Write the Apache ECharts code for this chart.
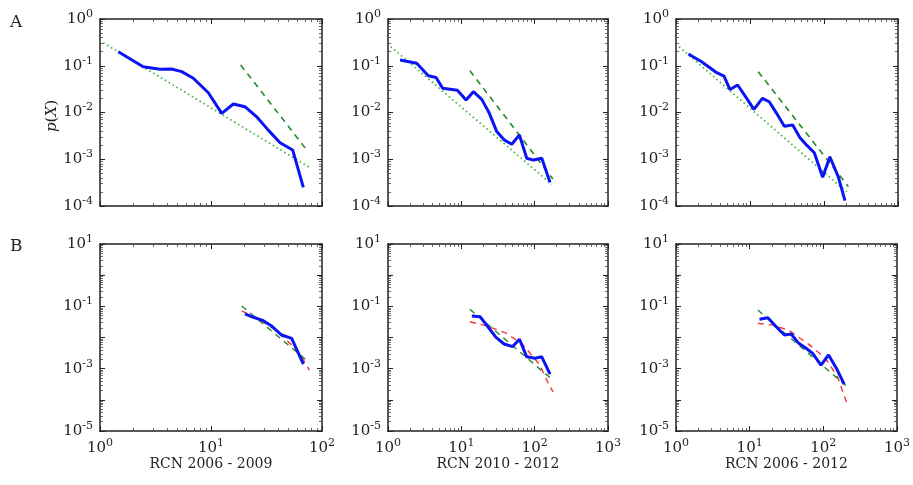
<!DOCTYPE html>
<html>
<head>
<meta charset="utf-8">
<script src="https://cdn.jsdelivr.net/npm/echarts@6/dist/echarts.min.js"></script>
<style>
  html, body { margin: 0; padding: 0; background: #fff; }
  #main { width: 913px; height: 485px; }
</style>
</head>
<body>
<div id="main"></div>
<script>
// ---- data ----
// row A: p(X) of the raw distribution, power-law fits
var a1X = [1.46, 2.45, 3.47, 4.42, 5.44, 6.93, 9.46, 12.5, 15.9, 20.2, 25.8, 32.8, 41.9, 54.4, 67.9];
var a1Y = [0.20, 0.095, 0.084, 0.085, 0.075, 0.054, 0.0265, 0.0096, 0.0152, 0.0133, 0.0081, 0.0042, 0.00226, 0.00158, 0.00025];
var a1FitAllX = [1.07, 78];  var a1FitAllY = [0.31, 0.00066];
var a1FitTailX = [18.5, 72.8]; var a1FitTailY = [0.104, 0.00158];

var a2X = [1.46, 2.46, 3.55, 4.52, 5.57, 8.83, 11.6, 14.6, 19.0, 24.1, 30.4, 38.3, 48.7, 61.9, 78, 96, 125, 162];
var a2Y = [0.133, 0.113, 0.061, 0.056, 0.033, 0.030, 0.0185, 0.0279, 0.0191, 0.0096, 0.0039, 0.0026, 0.0021, 0.0033, 0.00105, 0.00096, 0.00105, 0.00032];
var a2FitAllX = [1.09, 171];  var a2FitAllY = [0.256, 0.00029];
var a2FitTailX = [13.1, 177]; var a2FitTailY = [0.0785, 0.00038];

var a3X = [1.47, 2.22, 3.55, 4.45, 5.37, 6.81, 9.02, 11.3, 14.7, 18.2, 22.9, 29.1, 37.7, 47.4, 58.4, 74, 96, 120, 156, 192];
var a3Y = [0.178, 0.122, 0.071, 0.060, 0.031, 0.0387, 0.0201, 0.0117, 0.0201, 0.017, 0.0096, 0.0051, 0.0054, 0.0029, 0.0020, 0.00138, 0.00041, 0.00113, 0.00042, 0.00013];
var a3FitAllX = [1.1, 202];   var a3FitAllY = [0.256, 0.0002];
var a3FitTailX = [12.9, 213]; var a3FitTailY = [0.0746, 0.00026];

// row B: tail only, power law (green) and alternative fit (red)
var b1X = [20.2, 24.1, 29.6, 35.2, 43.3, 53.3, 67.9];
var b1Y = [0.057, 0.0445, 0.0347, 0.0234, 0.012, 0.0094, 0.0014];
var b1PowX = [18.9, 77]; var b1PowY = [0.103, 0.00156];
var b1AltX = [18.9, 25, 31.6, 40, 51.5, 65, 77];
var b1AltY = [0.072, 0.045, 0.027, 0.015, 0.0065, 0.0025, 0.0009];

var b2X = [13.9, 18, 22.6, 29.7, 38.3, 50.2, 62, 78, 101, 125, 162];
var b2Y = [0.049, 0.0466, 0.0234, 0.0101, 0.0062, 0.0051, 0.0088, 0.0024, 0.00215, 0.0024, 0.00067];
var b2PowX = [13.1, 166]; var b2PowY = [0.080, 0.00049];
var b2AltX = [13.1, 22.2, 41.6, 70, 118, 153, 178];
var b2AltY = [0.032, 0.0234, 0.0136, 0.0057, 0.0013, 0.00034, 0.00018];

var b3X = [13.6, 17.7, 22.9, 29.7, 36.6, 46.4, 57.1, 71.7, 93, 118, 151, 192];
var b3Y = [0.0384, 0.0432, 0.0222, 0.012, 0.0129, 0.0065, 0.0047, 0.0031, 0.0013, 0.00275, 0.00102, 0.00032];
var b3PowX = [12.9, 213]; var b3PowY = [0.076, 0.00026];
var b3AltX = [12.9, 20.6, 34.7, 64.8, 108, 156, 213];
var b3AltY = [0.0285, 0.025, 0.0166, 0.0058, 0.0021, 0.00055, 0.000068];

var xNames = ['RCN 2006 - 2009', 'RCN 2010 - 2012', 'RCN 2006 - 2012'];
var xMax = [100, 1000, 1000];
var yRangeA = [1e-4, 1];
var yRangeB = [1e-5, 10];

function pairs(xs, ys) {
  return xs.map(function (x, i) { return [x, ys[i]]; });
}

var FONT = 'DejaVu Serif';
var BLUE = '#0a14f5';
var GREEN_DASH = '#23892a';
var GREEN_DOT = '#3db83d';
var RED = '#f43535';

function powLabel(showFn) {
  return {
    show: true,
    fontFamily: FONT,
    color: '#222',
    fontSize: 15,
    formatter: function (v) {
      var e = Math.round(Math.log10(v));
      if (showFn && !showFn(e)) return '';
      return '{b|10}{s|' + e + '}';
    },
    rich: {
      b: { fontFamily: FONT, fontSize: 15, color: '#222' },
      s: { fontFamily: FONT, fontSize: 11, color: '#222', padding: [0, 0, 10, 0] }
    }
  };
}

var lineStyleAxis = { color: '#222', width: 1.5 };

var grids = [], xAxes = [], yAxes = [], series = [];
var lefts = [100, 388, 676];
var widths = [222, 220, 222];
var tops = [19, 244];

function addPanel(row, col) {
  var gi = grids.length;
  grids.push({ left: lefts[col], top: tops[row], width: widths[col], height: 187 });
  var yr = row === 0 ? yRangeA : yRangeB;
  var tickCommon = { show: true, inside: true, length: 5, lineStyle: { color: '#222', width: 1 } };
  var minorCommon = { show: true, splitNumber: 9, length: 3, lineStyle: { color: '#444', width: 0.8 } };
  // bottom x
  xAxes.push({
    type: 'log', logBase: 10, gridIndex: gi, min: 1, max: xMax[col], position: 'bottom',
    axisLine: { show: true, lineStyle: lineStyleAxis },
    axisTick: tickCommon, minorTick: minorCommon,
    splitLine: { show: false },
    axisLabel: row === 1 ? Object.assign(powLabel(), { margin: 7 }) : { show: false },
    name: row === 1 ? xNames[col] : '',
    nameLocation: 'middle', nameGap: 25,
    nameTextStyle: { fontFamily: FONT, fontSize: 14, color: '#222' }
  });
  // top x (frame)
  xAxes.push({
    type: 'log', logBase: 10, gridIndex: gi, min: 1, max: xMax[col], position: 'top',
    axisLine: { show: true, lineStyle: lineStyleAxis },
    axisTick: tickCommon, minorTick: minorCommon,
    splitLine: { show: false }, axisLabel: { show: false }
  });
  // left y
  yAxes.push({
    type: 'log', logBase: 10, gridIndex: gi, min: yr[0], max: yr[1], position: 'left',
    axisLine: { show: true, lineStyle: lineStyleAxis },
    axisTick: tickCommon, minorTick: minorCommon,
    splitLine: { show: false },
    axisLabel: Object.assign(powLabel(row === 1 ? function (e) { return Math.abs(e) % 2 === 1; } : null), { margin: 7 })
  });
  // right y (frame)
  yAxes.push({
    type: 'log', logBase: 10, gridIndex: gi, min: yr[0], max: yr[1], position: 'right',
    axisLine: { show: true, lineStyle: lineStyleAxis },
    axisTick: tickCommon, minorTick: minorCommon,
    splitLine: { show: false }, axisLabel: { show: false }
  });
  return { xi: xAxes.length - 2, yi: yAxes.length - 2 };
}

function addLine(ax, data, color, width, type, z) {
  series.push({
    type: 'line', xAxisIndex: ax.xi, yAxisIndex: ax.yi, data: data,
    showSymbol: false, symbol: 'none', silent: true, z: z || 2,
    lineStyle: { color: color, width: width, type: type },
    animation: false
  });
}

var rowA = [
  [a1X, a1Y, a1FitAllX, a1FitAllY, a1FitTailX, a1FitTailY],
  [a2X, a2Y, a2FitAllX, a2FitAllY, a2FitTailX, a2FitTailY],
  [a3X, a3Y, a3FitAllX, a3FitAllY, a3FitTailX, a3FitTailY]
];
var rowB = [
  [b1X, b1Y, b1PowX, b1PowY, b1AltX, b1AltY],
  [b2X, b2Y, b2PowX, b2PowY, b2AltX, b2AltY],
  [b3X, b3Y, b3PowX, b3PowY, b3AltX, b3AltY]
];

rowA.forEach(function (d, c) {
  var ax = addPanel(0, c);
  addLine(ax, pairs(d[2], d[3]), GREEN_DOT, 1.8, [1.5, 3], 2);
  addLine(ax, pairs(d[4], d[5]), GREEN_DASH, 1.6, [6, 5], 2);
  addLine(ax, pairs(d[0], d[1]), BLUE, 3, 'solid', 3);
});
rowB.forEach(function (d, c) {
  var ax = addPanel(1, c);
  addLine(ax, pairs(d[4], d[5]), RED, 1.4, [6, 5], 2);
  addLine(ax, pairs(d[2], d[3]), GREEN_DASH, 1.4, [6, 5], 2);
  addLine(ax, pairs(d[0], d[1]), BLUE, 3, 'solid', 3);
});

var chart = echarts.init(document.getElementById('main'));
chart.setOption({
  backgroundColor: '#fff',
  animation: false,
  grid: grids,
  xAxis: xAxes,
  yAxis: yAxes,
  series: series,
  graphic: [
    { type: 'text', left: 10, top: 14, style: { text: 'A', fontFamily: FONT, fontSize: 17, fill: '#222' } },
    { type: 'text', left: 10, top: 238, style: { text: 'B', fontFamily: FONT, fontSize: 17, fill: '#222' } },
    {
      type: 'text', x: 52, y: 116, rotation: Math.PI / 2,
      style: {
        text: '{i|p}({i|X})', fontFamily: FONT, fontSize: 15, fill: '#222',
        align: 'center', verticalAlign: 'middle',
        rich: { i: { fontFamily: FONT, fontStyle: 'italic', fontSize: 15, fill: '#222' } }
      }
    }
  ]
});
</script>
</body>
</html>
